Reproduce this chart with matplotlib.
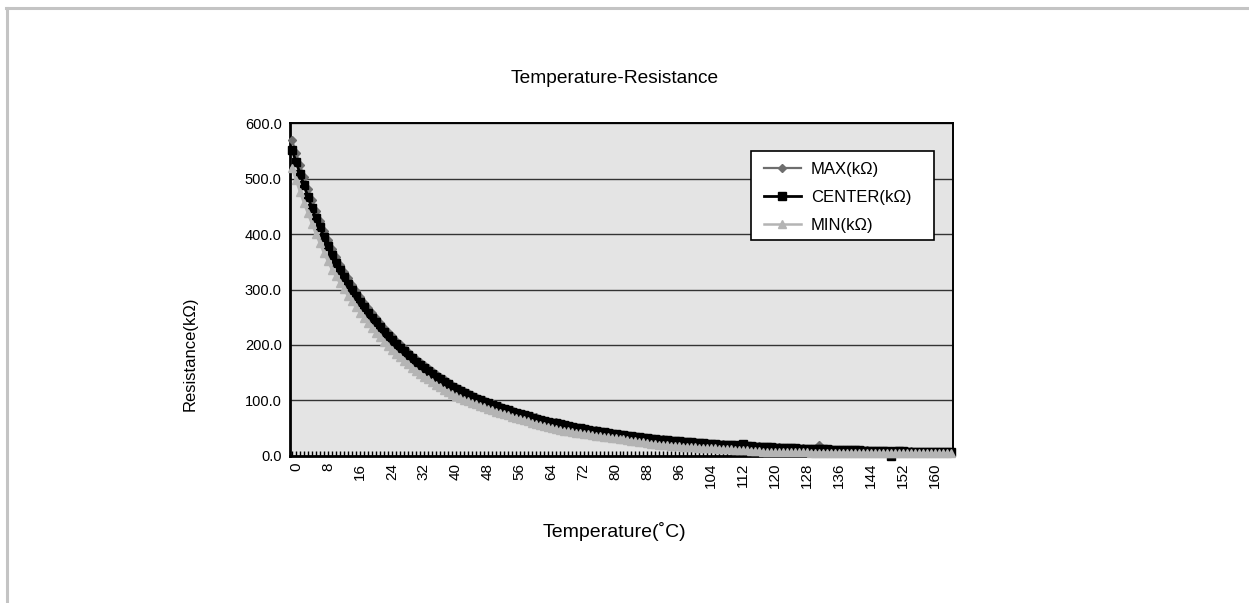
import matplotlib
matplotlib.use("Agg")
import matplotlib.pyplot as plt
import matplotlib.transforms as mtransforms
from matplotlib.lines import Line2D
from matplotlib.patches import Rectangle

plt.rcParams["font.family"] = ["Liberation Sans", "DejaVu Sans"]

# --- Data: resistance table, one row per degree ---
temps = list(range(166))

max_kohm = [
    569, 546, 524, 502, 481, 461, 442, 424, 406, 389,
    373, 359, 345, 332, 320, 308, 297, 286, 276, 266,
    257, 248, 239, 231, 223, 216, 208, 201, 194, 188,
    181, 175, 169, 164, 158, 153, 147, 142, 138, 133,
    128, 124.5, 120.6, 116.9, 113.3, 109.9, 106.6, 103.4, 100.3, 97.4,
    94.7, 92.1, 89.5, 87.0, 84.6, 82.2, 79.9, 77.7, 75.5, 73.4,
    71.4, 69.4, 67.5, 65.6, 63.9, 62.1, 60.5, 58.8, 57.3, 55.7,
    54.2, 52.7, 51.3, 50.0, 48.6, 47.3, 46.0, 44.8, 43.7, 42.5,
    41.4, 40.4, 39.3, 38.3, 37.3, 36.4, 35.4, 34.5, 33.7, 32.9,
    32.0, 31.2, 30.5, 29.8, 29.0, 28.3, 27.6, 27.0, 26.4, 25.8,
    25.1, 24.5, 24.0, 23.5, 22.9, 22.4, 21.8, 21.3, 20.8, 20.4,
    20.0, 19.5, 19.1, 18.6, 18.2, 17.8, 17.4, 17.1, 16.7, 16.4,
    16.1, 15.7, 15.3, 15.0, 14.7, 14.4, 14.1, 13.8, 13.6, 13.3,
    13.1, 12.8, 19.0, 12.3, 12.1, 11.8, 11.5, 11.3, 11.1, 10.9,
    10.7, 10.5, 10.3, 10.1, 9.9, 9.8, 9.6, 9.4, 9.3, 9.1,
    8.9, 8.8, 8.5, 8.4, 8.2, 8.1, 7.9, 7.8, 7.7, 7.5,
    7.4, 7.3, 7.1, 7.0, 6.9, 6.8,
]

center_kohm = [
    552, 530, 509, 488, 467, 446, 428, 412, 395, 378,
    362, 348.2, 335.1, 322.6, 310.6, 299.2, 288.3, 277.9, 267.9, 258.4,
    249.3, 240.6, 232.2, 224.2, 216.6, 209.3, 202.3, 195.4, 188.8, 182.3,
    176.1, 170.1, 164.3, 158.8, 153.4, 148.1, 143.1, 138.2, 133.5, 129.0,
    124.6, 120.7, 117.0, 113.4, 109.9, 106.6, 103.4, 100.3, 97.3, 94.6,
    91.9, 89.4, 86.9, 84.5, 82.1, 79.8, 77.6, 75.4, 73.3, 71.3,
    69.3, 67.4, 65.5, 63.7, 62.0, 60.3, 58.7, 57.1, 55.6, 54.1,
    52.6, 51.2, 49.8, 48.5, 47.2, 45.9, 44.7, 43.5, 42.4, 41.3,
    40.2, 39.2, 38.2, 37.2, 36.2, 35.3, 34.4, 33.5, 32.7, 31.9,
    31.1, 30.3, 29.6, 28.9, 28.2, 27.5, 26.8, 26.2, 25.6, 25.0,
    24.4, 23.8, 23.3, 22.8, 22.2, 21.7, 21.2, 20.7, 20.2, 19.8,
    19.4, 18.9, 18.5, 22.0, 17.7, 17.3, 16.9, 16.6, 16.2, 15.9,
    15.6, 15.2, 14.9, 14.6, 14.3, 14.0, 13.7, 13.4, 13.2, 12.9,
    12.7, 12.4, 12.2, 11.9, 11.7, 11.5, 11.2, 11.0, 10.8, 10.6,
    10.4, 10.2, 10.0, 9.8, 9.6, 9.5, 9.3, 9.1, 9.0, 8.8,
    0.0, 8.5, 8.3, 8.2, 8.0, 7.9, 7.7, 7.6, 7.5, 7.3,
    7.2, 7.1, 6.9, 6.8, 6.7, 6.6,
]

min_kohm = [
    519, 497, 476, 456, 437, 418, 400, 383, 366, 351,
    336, 323.6, 311.7, 300.2, 289.1, 278.4, 268.1, 258.2, 248.7, 239.5,
    230.7, 222.2, 214.0, 206.1, 198.5, 191.2, 184.1, 177.6, 171.3, 165.2,
    159.3, 153.7, 148.2, 143.0, 137.9, 133.0, 128.3, 123.7, 119.3, 115.1,
    111.0, 107.7, 104.6, 101.5, 98.5, 95.6, 92.8, 90.1, 87.5, 84.9,
    82.4, 80.0, 77.7, 75.4, 73.2, 71.0, 69.0, 67.0, 64.7, 62.4,
    60.2, 58.1, 56.1, 54.1, 52.3, 50.4, 48.7, 47.0, 45.8, 44.6,
    43.4, 42.2, 41.1, 40.0, 39.0, 38.0, 36.9, 35.8, 34.7, 33.7,
    32.7, 31.7, 30.8, 29.9, 29.0, 27.8, 26.6, 25.4, 24.4, 23.3,
    22.3, 21.4, 20.5, 19.9, 19.3, 18.7, 18.1, 17.6, 17.0, 16.5,
    16.0, 15.5, 15.1, 14.7, 14.3, 13.9, 13.5, 13.1, 12.7, 12.4,
    12.0, 11.5, 11.0, 10.5, 10.0, 9.6, 9.2, 8.8, 7.0, 6.9,
    6.8, 6.7, 6.6, 6.6, 6.5, 6.5, 6.4, 6.4, 6.3, 6.3,
    6.2, 6.2, 6.1, 6.1, 6.0, 6.0, 5.9, 5.9, 5.8, 5.8,
    5.7, 5.7, 5.6, 5.6, 5.5, 5.5, 5.4, 5.4, 5.3, 5.3,
    5.2, 5.2, 5.1, 5.1, 5.0, 5.0, 4.9, 4.9, 4.8, 4.8,
    4.7, 4.7, 4.6, 4.6, 4.5, 4.5,
]

series_names = ["MAX(kΩ)", "CENTER(kΩ)", "MIN(kΩ)"]
y_ticks = [0, 100, 200, 300, 400, 500, 600]
x_label_step = 8

# --- Figure ---
fig = plt.figure(figsize=(12.49, 6.03), dpi=100)
ax = fig.add_axes([0.2322, 0.2438, 0.5308, 0.5522])
ax.set_facecolor("#e4e4e4")

x = list(range(len(temps)))
ax.plot(x, max_kohm, color="#6e6e6e", lw=1.6, marker="D", ms=3.8,
        mec="#6e6e6e", mfc="#6e6e6e", label=series_names[0], zorder=3, clip_on=False)
ax.plot(x, center_kohm, color="black", lw=2.0, marker="s", ms=5.4,
        mec="black", mfc="black", label=series_names[1], zorder=4, clip_on=False)
ax.plot(x, min_kohm, color="#b4b4b4", lw=1.8, marker="^", ms=5.8,
        mec="#b4b4b4", mfc="#b4b4b4", label=series_names[2], zorder=5, clip_on=False)

# y axis
ax.set_ylim(0, 600)
ax.set_yticks(y_ticks)
ax.set_yticklabels([f"{v:.1f}" for v in y_ticks], fontsize=10.5)
ax.tick_params(axis="y", length=0, pad=6)
ax.grid(axis="y", color="#333333", lw=1.0)
ax.set_axisbelow(True)

# x axis: one category per degree, labels every 8
ax.set_xlim(-0.5, len(temps) - 0.5)
ax.set_xticks(x)
ax.set_xticklabels([str(t) if t % x_label_step == 0 else "" for t in temps],
                   rotation=90, fontsize=11)
ax.tick_params(axis="x", direction="in", length=3.6, width=1.0, pad=5)
shift = mtransforms.ScaledTranslation(4 / 100, 0, fig.dpi_scale_trans)
for lbl in ax.get_xticklabels():
    lbl.set_transform(lbl.get_transform() + shift)

for side in ["left", "bottom"]:
    ax.spines[side].set_linewidth(2.0)
for side in ["top", "right"]:
    ax.spines[side].set_linewidth(1.4)

# legend: white box drawn separately so its width is fixed
box = Rectangle((0.6953, 0.6486), 0.276, 0.2673, transform=ax.transAxes,
                facecolor="white", edgecolor="black", lw=1.2, zorder=8)
ax.add_patch(box)
leg = ax.legend(loc="upper left", bbox_to_anchor=(0.715, 0.882), borderaxespad=0,
                fontsize=12, frameon=False, handlelength=2.2, handletextpad=0.6,
                labelspacing=0.78, borderpad=0.0)
leg.set_zorder(9)

fig.text(0.492, 0.8706, "Temperature-Resistance", ha="center", va="center", fontsize=13.8)
fig.text(0.492, 0.118, "Temperature(˚C)", ha="center", va="center", fontsize=14)
fig.text(0.152, 0.413, "Resistance(kΩ)", ha="center", va="center", rotation=90, fontsize=12)

# page border
fig.add_artist(Line2D([0.005, 1.0], [0.9875, 0.9875], color="#c4c4c4", lw=2.2,
                      transform=fig.transFigure))
fig.add_artist(Line2D([0.0056, 0.0056], [0.0, 0.9875], color="#c4c4c4", lw=2.2,
                      transform=fig.transFigure))

fig.savefig("out.png", dpi=100)
